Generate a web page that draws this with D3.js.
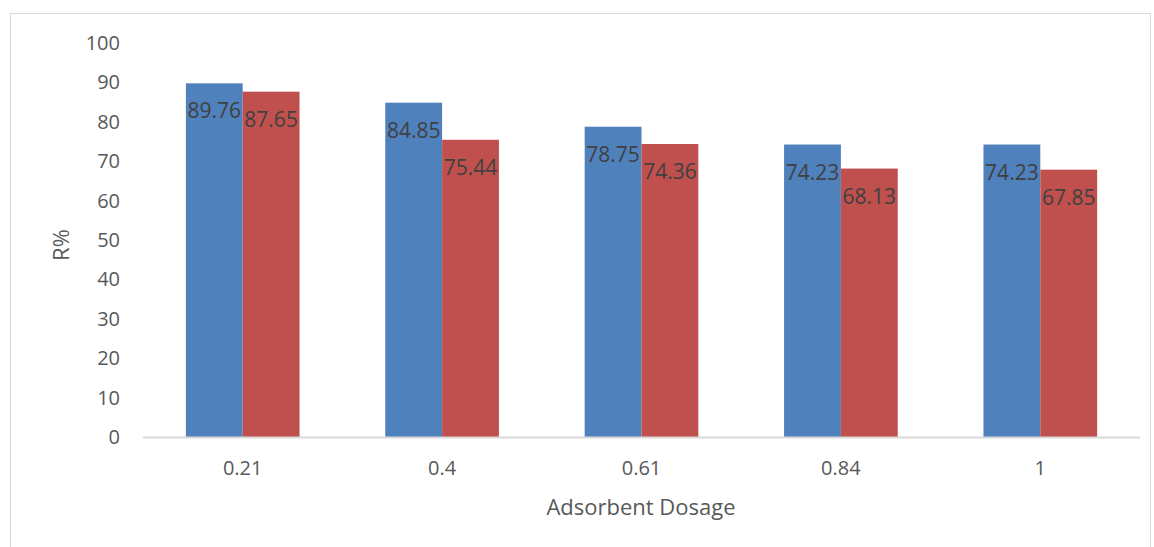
<!DOCTYPE html>
<meta charset="utf-8">
<script src="https://d3js.org/d3.v7.min.js"></script>
<style>
  body { margin: 0; background: #fff; }
  svg text { font-family: "Open Sans", "Noto Sans", sans-serif; }
</style>
<div id="chart"></div>
<script>
// data
var dosages = ["0.21", "0.4", "0.61", "0.84", "1"];
var seriesA = [89.76, 84.85, 78.75, 74.23, 74.23];
var seriesB = [87.65, 75.44, 74.36, 68.13, 67.85];
var yTicks = [0, 10, 20, 30, 40, 50, 60, 70, 80, 90, 100];
var colors = ["#4f81bd", "#c0504d"];

var W = 1154, H = 547;
var margin = { top: 43, right: 14, bottom: 110, left: 143 };

var svg = d3.select("#chart").append("svg")
    .attr("width", W).attr("height", H);

// outer chart frame
svg.append("rect")
    .attr("x", 10.5).attr("y", 13.5)
    .attr("width", 1140).attr("height", 545)
    .attr("fill", "none").attr("stroke", "#d9d9d9");

var plotW = 1140 - margin.left, plotH = 437 - margin.top;
var g = svg.append("g").attr("transform", "translate(" + margin.left + "," + margin.top + ")");

var x = d3.scaleBand().domain(dosages).range([0, plotW]).paddingInner(0.43).paddingOuter(0.215);
var xSub = d3.scaleBand().domain([0, 1]).range([0, x.bandwidth()]);
var y = d3.scaleLinear().domain([0, 100]).range([plotH, 0]);

// y tick labels
g.selectAll(".ytick").data(yTicks).enter().append("text")
    .attr("x", -23).attr("y", function(d) { return y(d); })
    .attr("dy", "0.35em")
    .attr("text-anchor", "end")
    .attr("font-size", 20).attr("fill", "#595959")
    .text(function(d) { return d; });

var rows = dosages.map(function(d, i) { return { key: d, vals: [seriesA[i], seriesB[i]] }; });

var grp = g.selectAll(".grp").data(rows).enter().append("g")
    .attr("transform", function(d) { return "translate(" + x(d.key) + ",0)"; });

grp.selectAll("rect").data(function(d) { return d.vals; }).enter().append("rect")
    .attr("x", function(d, i) { return xSub(i); })
    .attr("y", function(d) { return y(d); })
    .attr("width", xSub.bandwidth())
    .attr("height", function(d) { return plotH - y(d); })
    .attr("fill", function(d, i) { return colors[i]; });

grp.selectAll("text").data(function(d) { return d.vals; }).enter().append("text")
    .attr("x", function(d, i) { return xSub(i) + xSub.bandwidth() / 2; })
    .attr("y", function(d) { return y(d) + 35; })
    .attr("text-anchor", "middle")
    .attr("font-size", 21).attr("fill", "#404040")
    .text(function(d) { return d.toFixed(2); });

// x axis line + labels
g.append("line")
    .attr("x1", 0).attr("x2", plotW)
    .attr("y1", plotH + 0.5).attr("y2", plotH + 0.5)
    .attr("stroke", "#d9d9d9").attr("stroke-width", 2);

g.selectAll(".xtick").data(dosages).enter().append("text")
    .attr("x", function(d) { return x(d) + x.bandwidth() / 2; })
    .attr("y", plotH + 38)
    .attr("text-anchor", "middle")
    .attr("font-size", 20).attr("fill", "#595959")
    .text(function(d) { return d; });

// axis titles
svg.append("text")
    .attr("x", 641).attr("y", 515)
    .attr("text-anchor", "middle")
    .attr("font-size", 22).attr("fill", "#595959")
    .text("Adsorbent Dosage");

svg.append("text")
    .attr("transform", "translate(69,245) rotate(-90)")
    .attr("text-anchor", "middle")
    .attr("font-size", 22).attr("fill", "#595959")
    .text("R%");
</script>
